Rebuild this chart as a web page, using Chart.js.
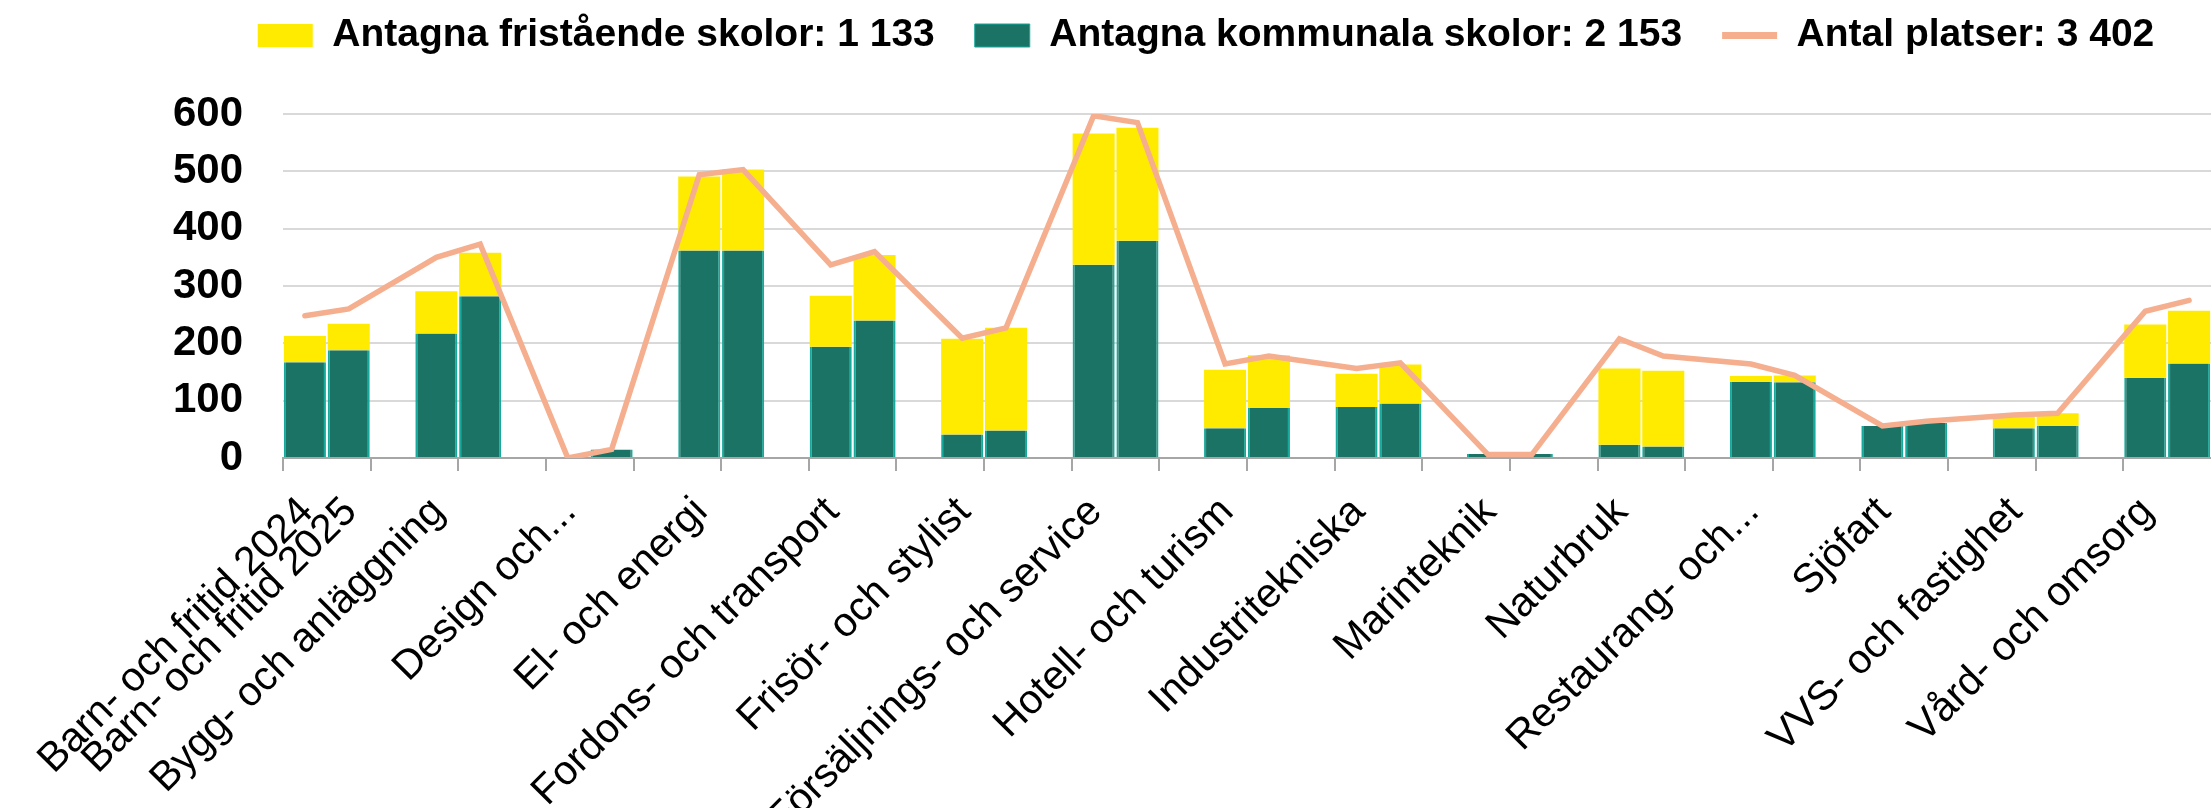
<!DOCTYPE html>
<html lang="sv">
<head>
<meta charset="utf-8">
<title>Antagna per program 2024–2025</title>
<script src="https://cdn.jsdelivr.net/npm/chart.js@4/dist/chart.umd.min.js"></script>
<style>
  html, body { margin: 0; padding: 0; background: #fff; }
  canvas { display: block; }
</style>
</head>
<body>
<canvas id="chart" width="2211" height="808"></canvas>
<script>
// program categories (two bars per program: 2024 and 2025)
const programs = [
  "Barn- och fritid", "Bygg- och anläggning", "Design och...", "El- och energi",
  "Fordons- och transport", "Frisör- och stylist", "Försäljnings- och service",
  "Hotell- och turism", "Industritekniska", "Marinteknik", "Naturbruk",
  "Restaurang- och...", "Sjöfart", "VVS- och fastighet", "Vård- och omsorg"
];
const years = ["2024", "2025"];

const kommunala2024  = [167, 217,  0, 362, 194,  41, 337,  52,  89, 7,  23, 133, 56, 52, 140];
const kommunala2025  = [188, 282, 15, 362, 240,  48, 379,  87,  95, 7,  20, 132, 61, 56, 165];
const fristaende2024 = [ 46,  74,  0, 129,  89, 167, 229, 102,  58, 0, 133,  10,  0, 20,  93];
const fristaende2025 = [ 46,  76,  0, 141, 114, 179, 197,  92,  68, 0, 132,  12,  0, 22,  92];
const platser2024    = [248, 350,  0, 494, 337, 209, 597, 164, 156, 6, 208, 164, 56, 75, 256];
const platser2025    = [260, 373, 15, 503, 360, 227, 585, 178, 166, 6, 178, 144, 64, 78, 275];

const legendTexts = [
  "Antagna kommunala skolor: 2 153",
  "Antagna fristående skolor: 1 133",
  "Antal platser: 3 402"
];
const yTicks = { min: 0, max: 600, step: 100 };

// ───── spread the programs over slots: 2024, 2025, empty gap ─────
const slots = [];
programs.forEach((p, i) => {
  slots.push({ p: i, y: 0 }, { p: i, y: 1 });
  if (i < programs.length - 1) slots.push(null);
});

const slotLabels = slots.map(s => {
  if (!s) return "";
  if (s.p === 0) return `${programs[0]} ${years[s.y]}`;
  return s.y === 0 ? programs[s.p] : "";
});
const pick = (a, b) => slots.map(s => s ? (s.y === 0 ? a : b)[s.p] : null);

const legendRank = [1, 0, 2];

// legend sits higher and a bit further right than Chart.js puts it
const legendNudge = {
  id: "legendNudge",
  afterLayout(chart) {
    const lg = chart.legend;
    if (!lg) return;
    lg.top -= 49; lg.bottom -= 49;
    lg.left += 14; lg.right += 14;
  }
};

Chart.defaults.font.family = "'Liberation Sans', Arial, sans-serif";
Chart.defaults.color = "#000";

new Chart(document.getElementById("chart"), {
  type: "bar",
  data: {
    labels: slotLabels,
    datasets: [
      {
        label: legendTexts[0],
        data: pick(kommunala2024, kommunala2025),
        backgroundColor: "#1b7366",
        borderColor: "#17a99b",
        borderWidth: { left: 2, right: 2, top: 0, bottom: 0 },
        pointStyle: "rect",
        order: 1
      },
      {
        label: legendTexts[1],
        data: pick(fristaende2024, fristaende2025),
        backgroundColor: "#ffeb00",
        borderColor: "#ffeb00",
        borderWidth: 0,
        pointStyle: "rect",
        order: 1
      },
      {
        type: "line",
        label: legendTexts[2],
        data: pick(platser2024, platser2025),
        borderColor: "#f5ae8e",
        backgroundColor: "#f5ae8e",
        borderWidth: 5.5,
        borderCapStyle: "round",
        pointRadius: 0,
        pointHoverRadius: 0,
        pointStyle: "line",
        pointBorderColor: "#f5ae8e",
        pointBorderWidth: 7,
        tension: 0,
        spanGaps: true,
        stack: "platser",
        order: 0
      }
    ]
  },
  options: {
    responsive: false,
    animation: false,
    devicePixelRatio: 1,
    datasets: { bar: { barPercentage: 0.96, categoryPercentage: 1 } },
    layout: { padding: { top: 25, left: 173, right: 0, bottom: 0 } },
    plugins: {
      tooltip: { enabled: false },
      legend: {
        position: "top",
        labels: {
          usePointStyle: true,
          pointStyleWidth: 55,
          boxHeight: 23,
          padding: 40,
          color: "#000",
          font: { size: 39, weight: "bold" },
          sort: (a, b) => legendRank[a.datasetIndex] - legendRank[b.datasetIndex]
        }
      }
    },
    scales: {
      x: {
        stacked: true,
        offset: true,
        border: { display: true, color: "#a6a6a6", width: 2 },
        grid: {
          offset: true,
          drawOnChartArea: false,
          drawTicks: true,
          tickLength: 13,
          lineWidth: 2,
          color: ctx => ctx.index % 2 === 0 ? "#a6a6a6" : "rgba(0,0,0,0)",
          tickColor: ctx => ctx.index % 2 === 0 ? "#a6a6a6" : "rgba(0,0,0,0)"
        },
        ticks: {
          autoSkip: false,
          maxRotation: 45,
          minRotation: 45,
          padding: 17,
          labelOffset: 2,
          color: "#000",
          font: { size: 41 }
        },
        afterFit: s => {
          s.height = 350;
          s.paddingLeft = 0;
          s.paddingRight = 0;
        }
      },
      y: {
        stacked: true,
        min: yTicks.min,
        max: yTicks.max,
        border: { display: false },
        grid: { color: "#d9d9d9", lineWidth: 2, drawTicks: false },
        ticks: {
          stepSize: yTicks.step,
          padding: 40,
          color: "#000",
          font: { size: 42, weight: "bold" }
        },
        afterFit: s => { s.width = 110; }
      }
    }
  },
  plugins: [legendNudge]
});
</script>
</body>
</html>
